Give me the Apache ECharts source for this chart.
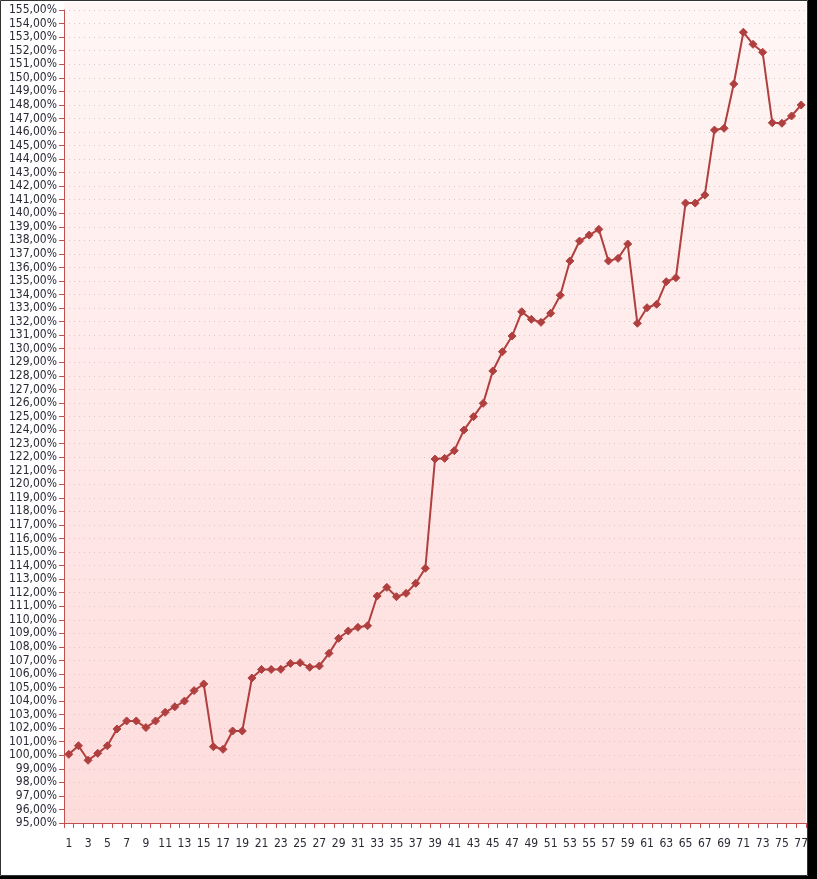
<!DOCTYPE html>
<html>
<head>
<meta charset="utf-8">
<script src="https://cdn.jsdelivr.net/npm/echarts@6/dist/echarts.min.js"></script>
<style>
html,body{margin:0;padding:0;background:#fff;}
#c{width:817px;height:879px;}
</style>
</head>
<body>
<div id="c"></div>
<script>
var categories = [];
for (var i = 1; i <= 77; i++) categories.push(String(i));

var values = [
  100.07, 100.70, 99.63, 100.14, 100.70, 101.94, 102.53, 102.53, 102.04, 102.53,
  103.17, 103.58, 104.00, 104.77, 105.26, 100.63, 100.44, 101.79, 101.79, 105.70,
  106.33, 106.33, 106.34, 106.78, 106.83, 106.49, 106.59, 107.52, 108.63, 109.17,
  109.44, 109.56, 111.75, 112.39, 111.70, 111.95, 112.69, 113.80, 121.86, 121.91,
  122.48, 124.00, 124.99, 125.97, 128.36, 129.78, 130.94, 132.73, 132.17, 131.95,
  132.62, 133.95, 136.48, 137.95, 138.39, 138.81, 136.48, 136.67, 137.73, 131.88,
  133.03, 133.28, 134.95, 135.24, 140.75, 140.75, 141.35, 146.14, 146.27, 149.54,
  153.36, 152.47, 151.88, 146.68, 146.64, 147.18, 147.99
];

var yMin = 95, yMax = 155, yStep = 1;

var chart = echarts.init(document.getElementById('c'), null, {renderer: 'canvas'});
var font = '"DejaVu Sans Condensed", "DejaVu Sans", sans-serif';
var axisColor = '#c0504d';
var textColor = '#2a2a36';

chart.setOption({
  backgroundColor: '#ffffff',
  animation: false,
  graphic: [
    {
      type: 'rect', z: -10,
      shape: {x: 64, y: 2, width: 742, height: 821},
      style: {
        fill: new echarts.graphic.LinearGradient(0, 0, 0, 1, [
          {offset: 0, color: '#fff6f5'},
          {offset: 1, color: '#fedcdc'}
        ])
      },
      silent: true
    },
    {
      type: 'rect', z: 100,
      shape: {x: 0.5, y: 0.5, width: 807, height: 875},
      style: {fill: null, stroke: '#333', lineWidth: 1},
      silent: true
    },
    {
      type: 'rect', z: 100,
      shape: {x: 808, y: 0, width: 9, height: 879},
      style: {fill: '#000'},
      silent: true
    },
    {
      type: 'rect', z: 100,
      shape: {x: 0, y: 876, width: 817, height: 3},
      style: {fill: '#000'},
      silent: true
    }
  ],
  grid: {left: 64, right: 11, top: 10, bottom: 56, containLabel: false},
  xAxis: {
    type: 'category',
    data: categories,
    boundaryGap: true,
    axisLine: {lineStyle: {color: axisColor, width: 1}},
    axisTick: {show: true, interval: 0, length: 5, lineStyle: {color: axisColor}},
    axisLabel: {interval: 1, margin: 15, color: textColor, fontFamily: font, fontSize: 12},
    splitLine: {show: false}
  },
  yAxis: {
    type: 'value',
    min: yMin, max: yMax, interval: yStep,
    axisLine: {show: true, lineStyle: {color: axisColor, width: 1}},
    axisTick: {show: true, length: 5, lineStyle: {color: axisColor}},
    axisLabel: {
      margin: 7, color: textColor, fontFamily: font, fontSize: 12,
      formatter: function (v) { return v.toFixed(2).replace('.', ',') + '%'; }
    },
    splitLine: {show: true, lineStyle: {color: '#e2c4c4', type: [1, 4], width: 1}}
  },
  series: [{
    type: 'line',
    data: values,
    symbol: 'diamond',
    symbolSize: 8,
    showSymbol: true,
    showAllSymbol: true,
    lineStyle: {color: '#b0403f', width: 2},
    itemStyle: {color: '#b0403f', borderColor: '#b0403f', borderWidth: 1},
    emphasis: {disabled: true}
  }]
});
</script>
</body>
</html>
